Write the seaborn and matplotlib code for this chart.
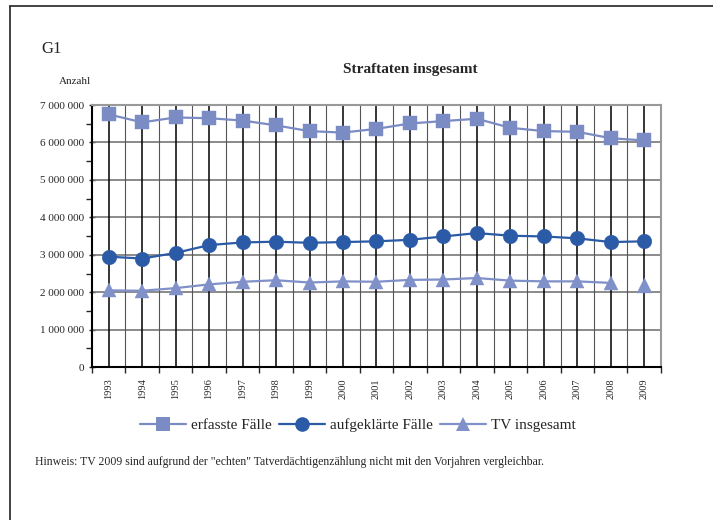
import numpy as np
import pandas as pd
import matplotlib
matplotlib.use("Agg")
import matplotlib.pyplot as plt
import seaborn as sns
from matplotlib.ticker import FuncFormatter, MultipleLocator
from matplotlib.lines import Line2D

sns.set_style("white")
plt.rcParams['font.family'] = ['Liberation Serif', 'DejaVu Serif']

# data
years = list(range(1993, 2010))
erfasst = [6750613, 6537748, 6668717, 6647598, 6586165, 6456996, 6302316, 6264723, 6363865,
           6507394, 6572135, 6633156, 6391715, 6304223, 6284661, 6114128, 6054330]
aufgeklaert = [2950000, 2900000, 3050000, 3260000, 3330000, 3350000, 3320000, 3340000, 3360000,
               3400000, 3490000, 3580000, 3510000, 3490000, 3440000, 3340000, 3360000]
tv_gesamt = [2050000, 2040000, 2110000, 2210000, 2280000, 2320000, 2260000, 2290000, 2280000,
             2330000, 2340000, 2380000, 2310000, 2290000, 2290000, 2250000, 2190000]

c_erf = "#7b8cc4"
c_auf = "#2b5aa6"
c_tv = "#8090c8"

df = pd.DataFrame({"Jahr": years, "erfasst": erfasst, "aufgeklaert": aufgeklaert, "tv": tv_gesamt})

fig = plt.figure(figsize=(7.13, 5.2), dpi=100)
ax = fig.add_axes([0.129, 0.294, 0.798, 0.504])

sns.lineplot(data=df, x="Jahr", y="erfasst", ax=ax, color=c_erf, lw=1.6, marker="s",
             markersize=10.5, markeredgecolor=c_erf, markeredgewidth=0.3, zorder=5)
sns.lineplot(data=df, x="Jahr", y="aufgeklaert", ax=ax, color=c_auf, lw=1.6, marker="o",
             markersize=10.5, markeredgecolor=c_auf, markeredgewidth=0.3, zorder=5)
# TV 2009 not comparable -> no connecting line
sns.lineplot(data=df.iloc[:-1], x="Jahr", y="tv", ax=ax, color=c_tv, lw=1.6, marker="^",
             markersize=10.5, markeredgecolor=c_tv, markeredgewidth=0.3, zorder=5)
sns.scatterplot(data=df.iloc[-1:], x="Jahr", y="tv", ax=ax, color=c_tv, marker="^", s=115,
                edgecolor=c_tv, linewidth=0.3, zorder=5)

ax.set_xlim(1992.5, 2009.5)
ax.set_ylim(0, 7000000)
ax.set_xlabel("")
ax.set_ylabel("")

ax.set_xticks(years)
ax.set_xticklabels([str(y) for y in years], rotation=90, fontsize=7.5)
ax.xaxis.set_minor_locator(MultipleLocator(1, offset=0.5))
ax.tick_params(axis="x", which="major", length=0, pad=8)
ax.tick_params(axis="x", which="minor", length=4, width=1, direction="out", bottom=True)

ax.yaxis.set_major_locator(MultipleLocator(1000000))
ax.yaxis.set_minor_locator(MultipleLocator(500000))
ax.yaxis.set_major_formatter(FuncFormatter(lambda v, p: f"{int(v):,}".replace(",", " ")))
ax.tick_params(axis="y", which="major", length=4, width=1, direction="inout", left=True, labelsize=8)
ax.tick_params(axis="y", which="minor", length=4, width=1, direction="out", left=True)

ax.grid(False)
for y in range(1000000, 7000001, 1000000):
    ax.axhline(y, color="#777777", lw=1.2, zorder=1)
for x in years:
    ax.axvline(x, color="black", lw=1.1, zorder=1)
for x in np.arange(1993.5, 2009, 1):
    ax.axvline(x, color="#555555", lw=0.8, zorder=1)

for s in ["top", "right"]:
    ax.spines[s].set_color("#999999")
    ax.spines[s].set_linewidth(1.5)
for s in ["left", "bottom"]:
    ax.spines[s].set_color("black")
    ax.spines[s].set_linewidth(1.5)

handles = [
    Line2D([], [], color=c_erf, lw=1.6, marker="s", markersize=10.5, markeredgewidth=0),
    Line2D([], [], color=c_auf, lw=1.6, marker="o", markersize=10.5, markeredgewidth=0),
    Line2D([], [], color=c_tv, lw=1.6, marker="^", markersize=10.5, markeredgewidth=0),
]
fig.legend(handles, ["erfasste Fälle", "aufgeklärte Fälle", "TV insgesamt"], loc="center",
           bbox_to_anchor=(0.502, 1 - 425 / 520), ncol=3, frameon=False, fontsize=11,
           handlelength=3.0, handletextpad=0.3, columnspacing=0.5)

fig.text(0.575, 1 - 70 / 520, "Straftaten insgesamt", ha="center", va="center", fontsize=11, fontweight="bold")
fig.text(0.058, 1 - 49 / 520, "G1", ha="left", va="center", fontsize=12)
fig.text(0.082, 1 - 82 / 520, "Anzahl", ha="left", va="center", fontsize=8)
fig.text(0.049, 1 - 462 / 520,
         'Hinweis: TV 2009 sind aufgrund der "echten" Tatverdächtigenzählung nicht mit den Vorjahren vergleichbar.',
         ha="left", va="center", fontsize=8.5)

# page frame (top and left edge)
fig.add_artist(Line2D([10 / 713, 1], [1 - 6 / 520, 1 - 6 / 520], color="#222222", lw=1.2, transform=fig.transFigure))
fig.add_artist(Line2D([10 / 713, 10 / 713], [0, 1 - 6 / 520], color="#222222", lw=1.2, transform=fig.transFigure))

fig.savefig("out.png", dpi=100)
